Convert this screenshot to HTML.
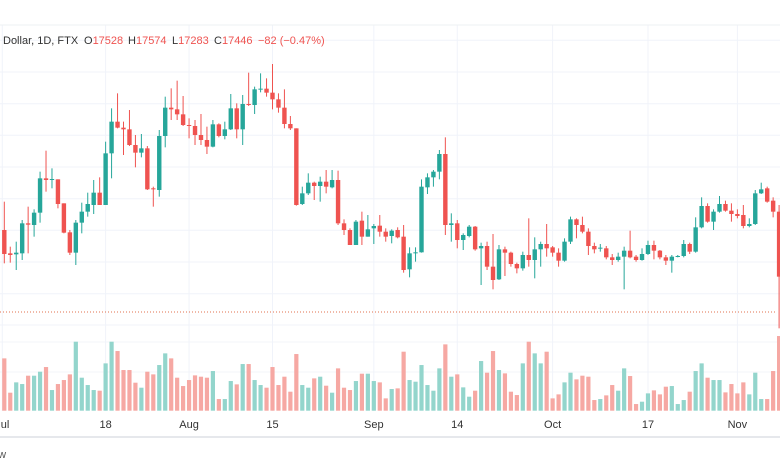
<!DOCTYPE html>
<html><head><meta charset="utf-8"><style>
html,body{margin:0;padding:0;background:#fff;width:780px;height:470px;overflow:hidden;font-family:"Liberation Sans",sans-serif}
svg{display:block}
</style></head><body>
<svg id="chart" width="780" height="470" viewBox="0 0 780 470" xmlns="http://www.w3.org/2000/svg">
<g id="grid"></g>
<g id="vol"></g>
<g id="candles"></g>
<line x1="0" x2="776" y1="312" y2="312" stroke="#e0704f" stroke-width="1" stroke-dasharray="1,2"/>
<line x1="0" x2="780" y1="25" y2="25" stroke="#eef0f3"/>
<line x1="0" x2="780" y1="437" y2="437" stroke="#e6e8ec" stroke-width="2"/>
<text y="44" font-size="11" fill="#333"><tspan x="3">Dollar, 1D, FTX</tspan><tspan x="84" fill="#333">O</tspan><tspan fill="#ef5350">17528</tspan><tspan x="128" fill="#333">H</tspan><tspan fill="#ef5350">17574</tspan><tspan x="172" fill="#333">L</tspan><tspan fill="#ef5350">17283</tspan><tspan x="214" fill="#333">C</tspan><tspan fill="#ef5350">17446</tspan><tspan x="258" fill="#ef5350">−82 (−0.47%)</tspan></text>
<g id="xaxis"></g>
<text x="-8" y="458" font-size="11" fill="#555">ew</text>
</svg>
<script>
const opens=[17490,17420,17417,17420,17510,17505,17542,17645,17640,17642,17570,17483,17422,17512,17545,17565,17602,17565,17720,17815,17797,17792,17745,17722,17735,17615,17610,17772,17857,17852,17837,17805,17802,17775,17760,17740,17807,17772,17792,17855,17792,17868,17865,17912,17914,17902,17882,17857,17808,17795,17568,17600,17632,17622,17635,17618,17640,17510,17490,17445,17518,17470,17495,17503,17485,17472,17490,17470,17372,17420,17423,17618,17648,17665,17718,17505,17510,17460,17472,17500,17435,17442,17380,17342,17432,17422,17388,17375,17415,17400,17432,17448,17438,17422,17398,17455,17522,17505,17485,17442,17435,17435,17408,17400,17410,17428,17410,17400,17418,17445,17428,17408,17398,17410,17412,17448,17425,17498,17562,17515,17545,17568,17548,17538,17535,17502,17508,17600,17615,17578,17545];
const highs=[17575,17440,17455,17520,17560,17552,17665,17728,17675,17642,17570,17490,17520,17572,17602,17640,17648,17755,17855,17900,17815,17850,17775,17778,17742,17620,17790,17890,17915,17938,17892,17825,17820,17838,17800,17820,17810,17815,17898,17870,17895,17962,17920,17960,17945,17988,17900,17912,17832,17795,17620,17660,17635,17650,17670,17670,17668,17522,17495,17520,17545,17535,17508,17535,17495,17492,17498,17505,17438,17438,17642,17660,17670,17730,17768,17540,17520,17480,17505,17502,17452,17455,17478,17445,17440,17425,17392,17425,17525,17468,17455,17508,17442,17435,17465,17530,17525,17530,17495,17452,17448,17442,17418,17422,17440,17488,17415,17435,17458,17458,17430,17415,17415,17415,17460,17452,17528,17588,17570,17552,17592,17578,17570,17552,17565,17525,17610,17632,17620,17588,17565];
const lows=[17390,17392,17370,17400,17420,17470,17512,17605,17615,17555,17480,17415,17385,17480,17530,17538,17565,17565,17645,17795,17715,17742,17678,17708,17610,17560,17590,17738,17820,17820,17802,17765,17745,17745,17718,17738,17768,17762,17790,17765,17745,17862,17838,17903,17890,17852,17842,17795,17790,17563,17565,17595,17580,17575,17600,17615,17505,17475,17445,17445,17445,17470,17448,17470,17455,17450,17465,17362,17348,17395,17422,17598,17620,17642,17475,17455,17435,17430,17468,17428,17325,17370,17312,17340,17352,17380,17360,17368,17380,17345,17380,17410,17410,17380,17395,17448,17465,17480,17415,17420,17425,17402,17385,17395,17312,17405,17395,17398,17415,17402,17402,17385,17362,17408,17408,17418,17422,17495,17512,17490,17542,17545,17515,17525,17495,17498,17505,17598,17572,17528,17195];
const closes=[17418,17415,17422,17510,17506,17542,17645,17640,17643,17568,17482,17422,17512,17545,17568,17602,17565,17720,17815,17797,17792,17745,17722,17735,17612,17612,17772,17857,17852,17837,17805,17802,17775,17760,17740,17807,17772,17792,17855,17792,17868,17865,17912,17914,17902,17882,17857,17808,17795,17565,17600,17632,17622,17635,17620,17640,17510,17490,17445,17515,17470,17492,17502,17485,17470,17488,17468,17370,17420,17423,17620,17648,17665,17718,17505,17510,17460,17475,17500,17432,17442,17380,17340,17432,17422,17388,17375,17415,17400,17432,17448,17435,17422,17398,17455,17522,17505,17485,17442,17432,17437,17408,17400,17410,17428,17408,17400,17418,17445,17428,17408,17398,17410,17412,17448,17425,17498,17562,17515,17545,17568,17548,17538,17532,17502,17508,17600,17612,17575,17545,17350];
const volumes=[157,54,85,80,105,105,117,131,62,80,92,109,207,99,77,62,60,142,207,179,122,122,84,69,117,109,137,172,157,99,74,92,106,102,99,119,35,35,89,79,140,140,92,77,69,131,77,102,57,170,77,69,97,102,75,54,127,69,62,89,111,111,89,85,37,65,67,177,92,87,137,77,60,127,199,102,109,70,42,60,149,114,179,122,112,57,47,142,207,172,142,177,37,49,85,114,94,105,102,32,35,46,77,60,127,104,20,27,52,61,49,72,74,20,32,57,119,142,99,92,92,55,80,52,85,49,114,35,35,119,224];
const xTickLabels=["Jul","18","Aug","15","Sep","14","Oct","17","Nov"];
const xTickIndex=[1,18,32,46,63,77,93,109,124];

const NS="http://www.w3.org/2000/svg";
const step=5.96, x0=4.3;
function xScale(i){return x0+i*step;}
function yScale(p){return 60+(18000-p)/3;}
const volBase=410.7;
function vScale(v){return v/3;}
function mk(tag,attrs,parent){const e=document.createElementNS(NS,tag);for(const k in attrs)e.setAttribute(k,attrs[k]);parent.appendChild(e);return e;}

const grid=document.getElementById('grid');
[40.3,72,103.7,135.3,167,198.7,230.3,262,293.7,325].forEach(y=>{
  const l=mk('line',{x1:0,x2:780,y1:y,y2:y,stroke:'#f0f3fa','stroke-width':1},grid);
  
  
});
[342,372].forEach(y=>{
  const l=mk('line',{x1:0,x2:780,y1:y,y2:y,stroke:'#f3f5f9','stroke-width':1},grid);
  
  
});
const xa=document.getElementById('xaxis');
xTickLabels.forEach((lab,k)=>{
  const x=xScale(xTickIndex[k]-1)- (k==0?2:0);
  const gl=mk('line',{x1:x,x2:x,y1:25,y2:411,stroke:'#f0f3fa','stroke-width':1},grid);
  
  
  const t=mk('text',{x:x,y:428,'font-size':11,fill:'#333','text-anchor':'middle'},xa);
  t.textContent=lab;
  
  
});

const cg=document.getElementById('candles'), vg=document.getElementById('vol');
for(let i=0;i<opens.length;i++){
  const o=opens[i],c=closes[i],h=highs[i],l=lows[i];
  const up=c>=o;
  const col=up?'#26a69a':'#ef5350';
  const x=xScale(i);
  const w=mk('line',{x1:x,x2:x,y1:yScale(h),y2:yScale(l),stroke:col,'stroke-width':1},cg);
  
  
  const yt=yScale(Math.max(o,c)), yb=yScale(Math.min(o,c));
  const b=mk('rect',{x:x-2.2,y:yt,width:4.4,height:Math.max(1,yb-yt),fill:col},cg);
  
  
  const vh=vScale(volumes[i]);
  const vb=mk('rect',{x:x-2.1,y:volBase-vh,width:4.2,height:vh,fill:up?'#93d5cc':'#f6a8a3'},vg);
  
  
}
</script>
</body></html>
